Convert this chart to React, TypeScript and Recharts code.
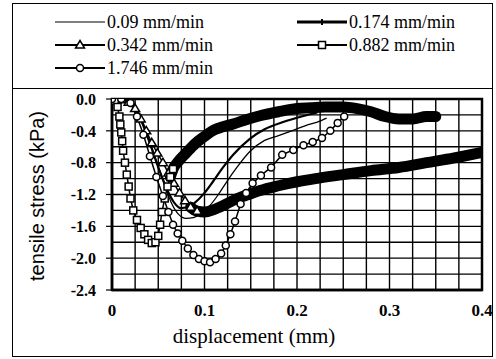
import { LineChart, Line, XAxis, YAxis, ReferenceLine, ReferenceArea } from "recharts";

// displacement (mm) / tensile stress (kPa)
const A09_X = [0, 0.015, 0.024, 0.032, 0.04, 0.048, 0.056, 0.064, 0.072, 0.08, 0.088, 0.096, 0.105, 0.115, 0.124, 0.135, 0.149, 0.165, 0.18, 0.192, 0.21, 0.222, 0.232];
const A09_Y = [0, 0, -0.06, -0.25, -0.5, -0.78, -1.05, -1.3, -1.45, -1.5, -1.49, -1.44, -1.35, -1.2, -1.04, -0.86, -0.66, -0.52, -0.46, -0.41, -0.33, -0.29, -0.24];

const A174_X = [0, 0.012, 0.02, 0.028, 0.036, 0.044, 0.052, 0.06, 0.067, 0.074, 0.082, 0.09, 0.1, 0.109, 0.12, 0.131, 0.149, 0.165, 0.185, 0.205, 0.222];
const A174_Y = [0, 0, -0.04, -0.18, -0.4, -0.66, -0.92, -1.15, -1.3, -1.37, -1.36, -1.3, -1.18, -1.04, -0.86, -0.7, -0.5, -0.38, -0.29, -0.22, -0.17];

const A342_X = [0, 0.01, 0.018, 0.025, 0.031, 0.037, 0.043, 0.049, 0.055, 0.061, 0.067, 0.073, 0.079, 0.085, 0.092, 0.1, 0.11, 0.12, 0.13, 0.14, 0.15, 0.16, 0.18, 0.2, 0.22, 0.25, 0.28, 0.31, 0.34, 0.37, 0.4];
const A342_Y = [0, -0.01, -0.04, -0.12, -0.25, -0.4, -0.55, -0.68, -0.8, -0.93, -1.06, -1.18, -1.28, -1.36, -1.41, -1.42, -1.39, -1.34, -1.28, -1.23, -1.19, -1.15, -1.09, -1.04, -1.0, -0.95, -0.9, -0.86, -0.8, -0.74, -0.67];

const A882_X = [0, 0.003, 0.006, 0.008, 0.009, 0.01, 0.011, 0.012, 0.014, 0.016, 0.018, 0.02, 0.023, 0.027, 0.031, 0.035, 0.039, 0.043, 0.047, 0.05, 0.052, 0.054, 0.057, 0.06, 0.063, 0.066, 0.072, 0.08, 0.09, 0.1, 0.11, 0.12, 0.132, 0.145, 0.16, 0.18, 0.2, 0.215, 0.23, 0.25, 0.265, 0.28, 0.295, 0.31, 0.325, 0.34, 0.35];
const A882_Y = [0, -0.02, -0.1, -0.22, -0.32, -0.42, -0.53, -0.65, -0.8, -0.95, -1.1, -1.25, -1.4, -1.52, -1.62, -1.7, -1.77, -1.81, -1.8, -1.72, -1.58, -1.42, -1.25, -1.1, -0.98, -0.88, -0.78, -0.68, -0.56, -0.47, -0.39, -0.35, -0.31, -0.26, -0.21, -0.16, -0.12, -0.11, -0.1, -0.1, -0.12, -0.16, -0.22, -0.25, -0.25, -0.22, -0.22];

const A1746_X = [0, 0.01, 0.02, 0.027, 0.034, 0.041, 0.048, 0.055, 0.061, 0.066, 0.071, 0.076, 0.082, 0.088, 0.094, 0.1, 0.106, 0.112, 0.118, 0.123, 0.128, 0.133, 0.139, 0.145, 0.152, 0.161, 0.172, 0.184, 0.196, 0.207, 0.217, 0.227, 0.236, 0.244, 0.251];
const A1746_Y = [0, 0, -0.05, -0.22, -0.45, -0.72, -0.98, -1.22, -1.42, -1.58, -1.69, -1.78, -1.88, -1.96, -2.01, -2.04, -2.05, -2.01, -1.94, -1.84, -1.7, -1.54, -1.32, -1.18, -1.06, -0.96, -0.86, -0.7, -0.64, -0.58, -0.54, -0.49, -0.4, -0.3, -0.22];

const X_TICKS = [0, 0.1, 0.2, 0.3, 0.4];
const Y_TICKS = [0, -0.4, -0.8, -1.2, -1.6, -2.0, -2.4];

// where the marker-heavy series turn into a solid band of overlapping markers
const SQ_BAND_FROM = 24;
const TRI_BAND_FROM = 13;

const X_GRID = Array.from({ length: 15 }, (_, i) => (i + 1) * 0.025);
const Y_GRID = Array.from({ length: 11 }, (_, i) => -(i + 1) * 0.2);

const zip = (xs: number[], ys: number[]) => xs.map((x, i) => ({ x, y: ys[i] }));

const d09 = zip(A09_X, A09_Y);
const d174 = zip(A174_X, A174_Y);
const d342 = zip(A342_X, A342_Y);
const d882 = zip(A882_X, A882_Y);
const d1746 = zip(A1746_X, A1746_Y);

const SERIF = "'Liberation Serif', 'Times New Roman', serif";
const SANS = "'Liberation Sans', Arial, sans-serif";

function squareDot(p: any) {
  const { cx, cy, index } = p;
  if (cx == null || cy == null) return <g key={`sq-${index}`} />;
  return <rect key={`sq-${index}`} x={cx - 3.5} y={cy - 3.5} width={7} height={7} fill="#fff" stroke="#000" strokeWidth={1.5} />;
}

function triPath(cx: number, cy: number) {
  return `M${cx},${cy - 4.5} L${cx + 4.5},${cy + 3} L${cx - 4.5},${cy + 3} Z`;
}

function triDot(p: any) {
  const { cx, cy, index } = p;
  if (cx == null || cy == null) return <g key={`tr-${index}`} />;
  return <path key={`tr-${index}`} d={triPath(cx, cy)} fill="#fff" stroke="#000" strokeWidth={1.5} />;
}

const bandEnd = (last: number) => (p: any) => {
  const { cx, cy, index } = p;
  if (index !== last || cx == null) return <g key={`be-${index}`} />;
  return <path key={`be-${index}`} d={triPath(cx + 3, cy)} fill="#fff" stroke="#000" strokeWidth={1.5} />;
};

function circleDot(p: any) {
  const { cx, cy, index } = p;
  if (cx == null || cy == null) return <g key={`ci-${index}`} />;
  return <circle key={`ci-${index}`} cx={cx} cy={cy} r={3.5} fill="#fff" stroke="#000" strokeWidth={1.5} />;
}

function LegendIcon({ kind }: { kind: string }) {
  return (
    <svg width={50} height={14} style={{ display: "block" }}>
      <line x1={0} y1={7} x2={50} y2={7} stroke="#000" strokeWidth={kind === "thick" ? 3 : kind === "thin" ? 1.2 : 2} />
      {kind === "thick" && <line x1={25} y1={4} x2={25} y2={10} stroke="#000" strokeWidth={2} />}
      {kind === "tri" && <path d={triPath(25, 7)} fill="#fff" stroke="#000" strokeWidth={1.5} />}
      {kind === "sq" && <rect x={21.5} y={3.5} width={7} height={7} fill="#fff" stroke="#000" strokeWidth={1.5} />}
      {kind === "ci" && <circle cx={25} cy={7} r={3.5} fill="#fff" stroke="#000" strokeWidth={1.5} />}
    </svg>
  );
}

const LEGEND = [
  { name: "0.09 mm/min", kind: "thin", left: 55, top: 22 },
  { name: "0.174 mm/min", kind: "thick", left: 297, top: 22 },
  { name: "0.342 mm/min", kind: "tri", left: 55, top: 45 },
  { name: "0.882 mm/min", kind: "sq", left: 297, top: 45 },
  { name: "1.746 mm/min", kind: "ci", left: 55, top: 68 },
];

export default function App() {
  return (
    <div style={{ position: "absolute", left: 0, top: 0, width: 496, height: 359, background: "#fff", fontFamily: SERIF }}>
      <div style={{ position: "absolute", left: 12, top: 3, width: 481, height: 354, border: "1.5px solid #000", boxSizing: "border-box" }} />
      <div style={{ position: "absolute", left: 12, top: 88, width: 481, borderTop: "1.5px solid #000" }} />

      {LEGEND.map((l) => (
        <div key={l.name} style={{ position: "absolute", left: l.left, top: l.top - 11, height: 22, display: "flex", alignItems: "center", gap: 2 }}>
          <LegendIcon kind={l.kind} />
          <span style={{ fontSize: 18, color: "#000", whiteSpace: "nowrap", fontFamily: SERIF }}>{l.name}</span>
        </div>
      ))}

      <div style={{ position: "absolute", left: 0 }}>
        <LineChart width={496} height={359} margin={{ top: 99, right: 14, bottom: 0, left: 0 }}>
          <XAxis
            dataKey="x"
            type="number"
            domain={[0, 0.4]}
            ticks={X_TICKS}
            tickFormatter={(v: number) => (v === 0 ? "0" : String(v))}
            allowDataOverflow
            height={69}
            tickLine={false}
            tickMargin={8}
            axisLine={{ stroke: "#000", strokeWidth: 2.5 }}
            tick={{ fill: "#000", fontSize: 17, fontWeight: 700, fontFamily: SERIF }}
          />
          <YAxis
            dataKey="y"
            type="number"
            domain={[-2.4, 0]}
            ticks={Y_TICKS}
            tickFormatter={(v: number) => v.toFixed(1)}
            allowDataOverflow
            width={112}
            tickSize={6}
            tickMargin={10}
            tickLine={{ stroke: "#000", strokeWidth: 1.2 }}
            axisLine={{ stroke: "#000", strokeWidth: 2.5 }}
            tick={{ fill: "#000", fontSize: 16, fontWeight: 700, fontFamily: SERIF }}
          />
          {X_GRID.map((v) => (
            <ReferenceLine key={`gx${v}`} x={v} stroke="#000" strokeWidth={1.4} />
          ))}
          {Y_GRID.map((v) => (
            <ReferenceLine key={`gy${v}`} y={v} stroke="#000" strokeWidth={1.4} />
          ))}
          <ReferenceArea x1={0} x2={0.4} y1={-2.4} y2={0} fill="none" stroke="#000" strokeWidth={2.5} />

          <Line data={d09} dataKey="y" type="monotone" stroke="#000" strokeWidth={1.3} dot={false} isAnimationActive={false} />
          <Line data={d174} dataKey="y" type="monotone" stroke="#000" strokeWidth={2.2} dot={false} isAnimationActive={false} />

          <Line data={d342.slice(0, TRI_BAND_FROM + 2)} dataKey="y" type="monotone" stroke="#000" strokeWidth={1.5} dot={triDot} isAnimationActive={false} />
          <Line
            data={d342.slice(TRI_BAND_FROM)}
            dataKey="y"
            type="monotone"
            stroke="#000"
            strokeWidth={11}
            strokeLinejoin="round"
            strokeLinecap="round"
            dot={bandEnd(d342.length - 1 - TRI_BAND_FROM)}
            isAnimationActive={false}
          />

          <Line data={d882.slice(0, SQ_BAND_FROM + 2)} dataKey="y" type="linear" stroke="#000" strokeWidth={1.5} dot={squareDot} isAnimationActive={false} />
          <Line
            data={d882.slice(SQ_BAND_FROM)}
            dataKey="y"
            type="monotone"
            stroke="#000"
            strokeWidth={11}
            strokeLinejoin="round"
            strokeLinecap="round"
            dot={false}
            isAnimationActive={false}
          />

          <Line data={d1746} dataKey="y" type="linear" stroke="#000" strokeWidth={1.5} dot={circleDot} isAnimationActive={false} />
        </LineChart>
      </div>

      <div style={{ position: "absolute", left: 37, top: 196, transform: "translate(-50%, -50%) rotate(-90deg)", whiteSpace: "nowrap", fontSize: 20, fontFamily: SANS, color: "#000" }}>
        tensile stress (kPa)
      </div>
      <div style={{ position: "absolute", left: 254, top: 336, transform: "translate(-50%, -50%)", whiteSpace: "nowrap", fontSize: 21, fontFamily: SERIF, color: "#000", lineHeight: "22px" }}>
        displacement (mm)
      </div>
    </div>
  );
}
